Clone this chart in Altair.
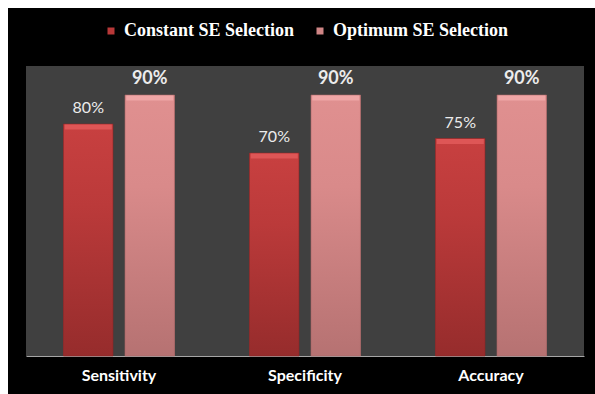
import altair as alt
import pandas as pd

categories = ["Sensitivity", "Specificity", "Accuracy"]
series = ["Constant SE Selection", "Optimum SE Selection"]
constant_values = [80, 70, 75]
optimum_values = [90, 90, 90]

rows = []
for c, v in zip(categories, constant_values):
    rows.append({"metric": c, "series": series[0], "value": v})
for c, v in zip(categories, optimum_values):
    rows.append({"metric": c, "series": series[1], "value": v})
df = pd.DataFrame(rows)
df["label"] = df["value"].astype(str) + "%"

red_grad = alt.Gradient(
    gradient="linear",
    stops=[
        alt.GradientStop(color="#c84040", offset=0),
        alt.GradientStop(color="#bb3a3a", offset=0.35),
        alt.GradientStop(color="#962c2c", offset=1),
    ],
    x1=0, x2=0, y1=0, y2=1,
)
pink_grad = alt.Gradient(
    gradient="linear",
    stops=[
        alt.GradientStop(color="#e09090", offset=0),
        alt.GradientStop(color="#d98a8a", offset=0.35),
        alt.GradientStop(color="#b67272", offset=1),
    ],
    x1=0, x2=0, y1=0, y2=1,
)

x_enc = alt.X("metric:N", sort=categories,
              scale=alt.Scale(paddingInner=0, paddingOuter=0),
              axis=alt.Axis(title=None, labelAngle=0))
xo_enc = alt.XOffset("series:N",
                     scale=alt.Scale(domain=series, paddingInner=0.195, paddingOuter=0.61))
y_enc = alt.Y("value:Q", scale=alt.Scale(domain=[0, 100]), axis=None)

base = alt.Chart(df)

legend_bars = base.mark_bar().encode(
    x=x_enc, xOffset=xo_enc, y=y_enc,
    color=alt.Color("series:N",
                    scale=alt.Scale(domain=series, range=["#b83838", "#d08686"]),
                    legend=alt.Legend(
                        title=None, orient="none", direction="horizontal",
                        legendX=76, legendY=-44,
                        symbolType="square", symbolSize=49, symbolStrokeWidth=0,
                        labelFont="Liberation Serif", labelFontWeight="bold",
                        labelFontSize=18, labelColor="white", labelOffset=4,
                        labelLimit=400, columnPadding=16)),
)

red_bars = base.transform_filter(alt.datum.series == series[0]).mark_bar(
    fill=red_grad, stroke="#8a2626", strokeWidth=0.6
).encode(x=x_enc, xOffset=xo_enc, y=y_enc)

pink_bars = base.transform_filter(alt.datum.series == series[1]).mark_bar(
    fill=pink_grad, stroke="#a86464", strokeWidth=0.6
).encode(x=x_enc, xOffset=xo_enc, y=y_enc)

red_top = base.transform_filter(alt.datum.series == series[0]).mark_tick(
    thickness=5, size=47, yOffset=3, color="#e25a5a", opacity=0.85
).encode(x=x_enc, xOffset=xo_enc, y=y_enc)

pink_top = base.transform_filter(alt.datum.series == series[1]).mark_tick(
    thickness=5, size=47, yOffset=3, color="#f2aaaa", opacity=0.85
).encode(x=x_enc, xOffset=xo_enc, y=y_enc)

text_const = base.transform_filter(alt.datum.series == series[0]).mark_text(
    baseline="alphabetic", dy=-11, font="Lato", fontSize=16, color="#ececec"
).encode(x=x_enc, xOffset=xo_enc, y=y_enc, text="label:N")

text_opt = base.transform_filter(alt.datum.series == series[1]).mark_text(
    baseline="alphabetic", dy=-11, font="Lato", fontSize=18, fontWeight="bold",
    color="#ececec"
).encode(x=x_enc, xOffset=xo_enc, y=y_enc, text="label:N")

frame = pd.DataFrame({"k": [0]})
white_top = alt.Chart(frame).mark_rect(color="white").encode(
    x=alt.value(-26), x2=alt.value(569), y=alt.value(-66), y2=alt.value(-58))
white_left = alt.Chart(frame).mark_rect(color="white").encode(
    x=alt.value(-26), x2=alt.value(-18), y=alt.value(-66), y2=alt.value(328))

chart = alt.layer(
    legend_bars, red_bars, pink_bars, red_top, pink_top,
    text_const, text_opt, white_top, white_left
).properties(
    width=558, height=290,
    padding={"left": 26, "top": 66, "right": 11, "bottom": 38},
    autosize=alt.AutoSizeParams(type="none"),
    background="black",
).configure_view(
    fill="#404040", stroke=None
).configure_axis(
    domainColor="#a6a6a6", domainWidth=1.2, ticks=False, grid=False,
    labelColor="white", labelFont="Lato", labelFontWeight="bold",
    labelFontSize=16, labelPadding=11,
)

chart.save("out.html", embed_options={"renderer": "svg", "actions": False})
